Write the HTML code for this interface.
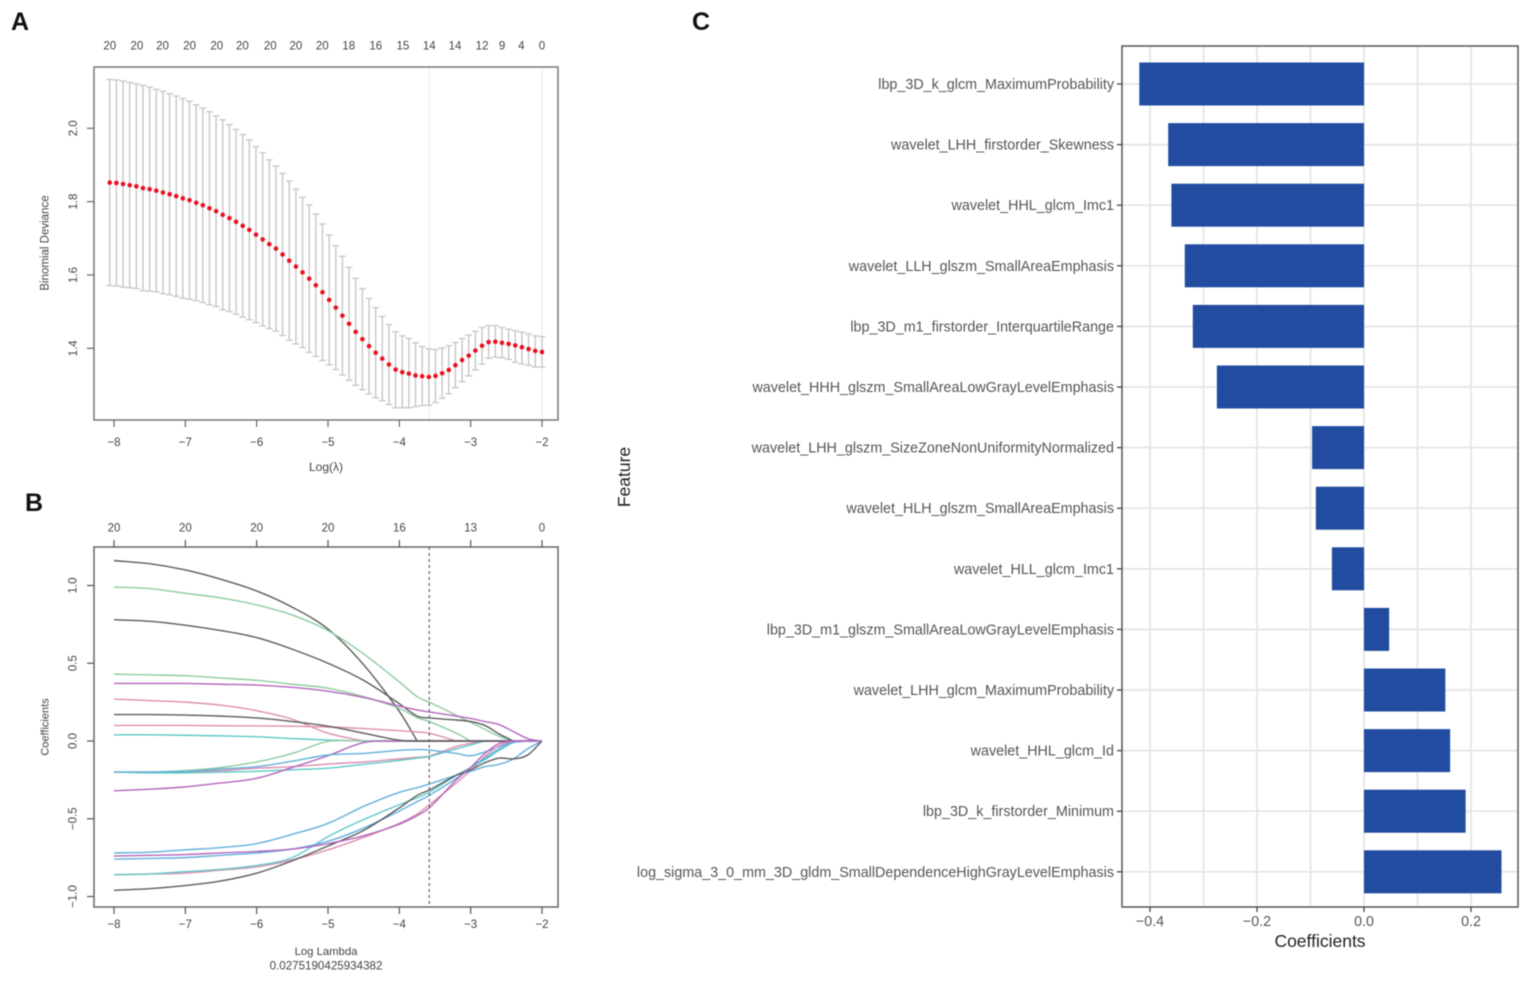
<!DOCTYPE html>
<html>
<head>
<meta charset="utf-8">
<title>Radiomics LASSO figure</title>
<style>
html,body{margin:0;padding:0;background:#fff;width:1535px;height:981px;overflow:hidden}
svg{display:block;filter:blur(0.55px)}
text{font-family:"Liberation Sans",Arial,sans-serif}
</style>
</head>
<body>
<svg id="fig" xmlns="http://www.w3.org/2000/svg" width="1535" height="981" viewBox="0 0 1535 981"></svg>
<script>
// ---------- Panel A data ----------
const logLambdaA = [-8.06,-7.967,-7.874,-7.78,-7.687,-7.594,-7.501,-7.408,-7.314,-7.221,-7.128,-7.035,-6.942,-6.848,-6.755,-6.662,-6.569,-6.476,-6.382,-6.289,-6.196,-6.103,-6.01,-5.916,-5.823,-5.73,-5.637,-5.544,-5.45,-5.357,-5.264,-5.171,-5.078,-4.984,-4.891,-4.798,-4.705,-4.612,-4.518,-4.425,-4.332,-4.239,-4.146,-4.052,-3.959,-3.866,-3.773,-3.68,-3.586,-3.493,-3.4,-3.307,-3.214,-3.12,-3.027,-2.934,-2.841,-2.748,-2.654,-2.561,-2.468,-2.375,-2.282,-2.188,-2.095,-2.0];
const devianceMean = [1.852,1.851,1.848,1.845,1.842,1.837,1.834,1.830,1.825,1.820,1.815,1.809,1.804,1.797,1.790,1.782,1.774,1.764,1.755,1.745,1.734,1.723,1.710,1.697,1.684,1.672,1.656,1.639,1.623,1.607,1.590,1.572,1.553,1.532,1.511,1.489,1.467,1.445,1.425,1.406,1.388,1.372,1.356,1.342,1.335,1.331,1.326,1.324,1.322,1.325,1.332,1.341,1.354,1.368,1.380,1.394,1.407,1.417,1.418,1.415,1.412,1.408,1.403,1.398,1.393,1.390];
const devianceUpper = [2.133,2.132,2.129,2.125,2.121,2.117,2.112,2.106,2.101,2.094,2.088,2.081,2.074,2.064,2.055,2.045,2.034,2.023,2.010,1.997,1.983,1.968,1.950,1.933,1.914,1.897,1.877,1.856,1.834,1.812,1.791,1.766,1.739,1.709,1.680,1.651,1.621,1.591,1.563,1.536,1.511,1.487,1.465,1.445,1.434,1.427,1.415,1.405,1.399,1.397,1.401,1.407,1.416,1.427,1.436,1.446,1.457,1.462,1.462,1.457,1.452,1.448,1.444,1.439,1.434,1.432];
const devianceLower = [1.571,1.570,1.567,1.565,1.563,1.557,1.556,1.554,1.549,1.546,1.542,1.537,1.534,1.530,1.525,1.519,1.514,1.505,1.500,1.493,1.485,1.478,1.470,1.461,1.454,1.447,1.435,1.422,1.412,1.402,1.389,1.378,1.367,1.355,1.342,1.327,1.313,1.299,1.287,1.276,1.265,1.257,1.247,1.238,1.238,1.238,1.241,1.244,1.245,1.252,1.264,1.276,1.293,1.309,1.325,1.341,1.357,1.373,1.376,1.374,1.370,1.362,1.357,1.354,1.349,1.349];
const topCountsA = ["20","20","20","20","20","20","20","20","20","18","16","15","14","14","12","9","4","0"];
const topLambdaA = [-8.06,-7.68,-7.32,-6.94,-6.56,-6.20,-5.81,-5.45,-5.08,-4.71,-4.33,-3.95,-3.58,-3.22,-2.84,-2.56,-2.29,-2.0];
const xTicks = [-8,-7,-6,-5,-4,-3,-2];
const yTicksA = [1.4,1.6,1.8,2.0];
const refLinesA = [-3.58,-2];

// ---------- Panel B data ----------
const pathLambda = [-8,-7.5,-7,-6.5,-6,-5.5,-5,-4.5,-4,-3.75,-3.58,-3.2,-3,-2.8,-2.6,-2.4,-2.2,-2];
const coefBlack1  = [1.16,1.14,1.10,1.04,.965,.86,.72,.49,.19,0,0,0,0,0,0,0,0,0];
const coefGreen1  = [.99,.98,.95,.92,.875,.81,.71,.56,.38,.285,.25,.165,.12,.075,.03,0,0,0];
const coefBlack2  = [.78,.77,.745,.71,.665,.59,.50,.39,.24,.16,.148,.135,.125,.10,.045,0,0,0];
const coefGreen2  = [.43,.425,.42,.405,.39,.365,.34,.285,.21,.15,.125,.05,0,0,0,0,0,0];
const coefMagenta1= [.37,.37,.37,.365,.36,.345,.32,.28,.225,.2,.187,.16,.145,.125,.105,.06,.015,0];
const coefPink1   = [.27,.26,.25,.23,.195,.14,.05,0,0,0,0,0,0,0,0,0,0,0];
const coefBlack3  = [.17,.17,.167,.16,.148,.125,.095,.05,.005,0,0,0,0,0,0,0,0,0];
const coefPink2   = [.10,.10,.10,.098,.097,.095,.09,.08,.066,.058,.05,0,0,0,0,0,0,0];
const coefCyan1   = [.04,.04,.037,.033,.027,.016,.006,0,0,0,0,0,0,0,0,0,0,0];
const coefGreen3  = [-.2,-.2,-.19,-.17,-.135,-.08,-.002,0,0,0,0,0,0,0,0,0,0,0];
const coefBlue1   = [-.2,-.2,-.195,-.18,-.165,-.13,-.09,-.08,-.06,-.055,-.058,-.08,-.095,-.07,-.035,0,0,0];
const coefPink3   = [-.2,-.2,-.2,-.19,-.175,-.165,-.148,-.135,-.115,-.105,-.097,-.035,-.015,0,0,0,0,0];
const coefCyan2   = [-.2,-.205,-.205,-.2,-.195,-.185,-.175,-.15,-.125,-.11,-.1,-.05,-.025,0,0,0,0,0];
const coefMagenta2= [-.32,-.31,-.295,-.27,-.24,-.17,-.095,-.01,0,0,0,0,0,0,0,0,0,0];
const coefBlue2   = [-.72,-.715,-.70,-.685,-.66,-.60,-.53,-.42,-.33,-.30,-.277,-.22,-.195,-.165,-.15,-.115,-.05,0];
const coefMagenta3= [-.74,-.735,-.73,-.72,-.71,-.695,-.66,-.61,-.535,-.48,-.43,-.25,-.17,-.08,-.015,0,0,0];
const coefBlue3   = [-.76,-.755,-.75,-.735,-.72,-.695,-.645,-.56,-.45,-.39,-.35,-.24,-.17,-.11,-.05,-.01,0,0];
const coefCyan3   = [-.86,-.855,-.84,-.825,-.80,-.75,-.615,-.505,-.41,-.365,-.33,-.22,-.17,-.12,-.06,-.01,0,0];
const coefPink4   = [-.86,-.855,-.85,-.83,-.81,-.765,-.70,-.62,-.53,-.47,-.41,-.27,-.19,-.10,-.03,0,0,0];
const coefBlack4  = [-.96,-.95,-.93,-.90,-.85,-.77,-.675,-.575,-.43,-.35,-.315,-.22,-.185,-.14,-.11,-.115,-.09,0];
const topCountsB = ["20","20","20","20","16","13","0"];
const yTicksB = [-1,-.5,0,.5,1];
const refLineB = -3.58;

// ---------- Panel C data ----------
const features = ["lbp_3D_k_glcm_MaximumProbability","wavelet_LHH_firstorder_Skewness","wavelet_HHL_glcm_Imc1","wavelet_LLH_glszm_SmallAreaEmphasis","lbp_3D_m1_firstorder_InterquartileRange","wavelet_HHH_glszm_SmallAreaLowGrayLevelEmphasis","wavelet_LHH_glszm_SizeZoneNonUniformityNormalized","wavelet_HLH_glszm_SmallAreaEmphasis","wavelet_HLL_glcm_Imc1","lbp_3D_m1_glszm_SmallAreaLowGrayLevelEmphasis","wavelet_LHH_glcm_MaximumProbability","wavelet_HHL_glcm_Id","lbp_3D_k_firstorder_Minimum","log_sigma_3_0_mm_3D_gldm_SmallDependenceHighGrayLevelEmphasis"];
const coefficients = [-.42,-.366,-.36,-.335,-.32,-.275,-.097,-.09,-.06,.047,.152,.161,.19,.257];
const majorTicksC = [-.4,-.2,0,.2];
const minorTicksC = [-.3,-.1,.1];

// ---------- helpers ----------
const NS = 'http://www.w3.org/2000/svg';
const fig = document.getElementById('fig');
function mk(tag, attrs, name, parent){
  const el = document.createElementNS(NS, tag);
  for (const k in attrs) el.setAttribute(k, attrs[k]);
  
  
  (parent || fig).appendChild(el);
  return el;
}
function txt(s, x, y, size, fill, name, opts){
  opts = opts || {};
  if (opts.rot) x += 1; else y += 1;
  const a = {x:x, y:y, 'font-size':size, fill:fill, 'text-anchor':opts.anchor || 'middle', 'dominant-baseline':'central'};
  if (opts.rot) a.transform = 'rotate(-90 ' + x + ' ' + y + ')';
  if (opts.weight) a['font-weight'] = opts.weight;
  const el = mk('text', a, name, opts.parent);
  el.textContent = s;
  return el;
}
function line(x1,y1,x2,y2,stroke,w,name,parent,dash){
  const a = {x1:x1,y1:y1,x2:x2,y2:y2,stroke:stroke,'stroke-width':w};
  if (dash) a['stroke-dasharray'] = dash;
  return mk('line', a, name, parent);
}
const fmtMinus = s => String(s).replace('-', '\u2212');

// shared x scale panels A/B
const xLam = v => 542 + (v + 2) * 71.33;

// panel labels
txt('A', 20, 21, 25, '#111', 'panel-label-a', {weight:'bold'});
txt('B', 34, 502, 25, '#111', 'panel-label-b', {weight:'bold'});
txt('C', 701, 21, 25, '#111', 'panel-label-c', {weight:'bold'});

// ---------- Panel A ----------
(function(){
  const g = mk('g', {}, 'panel-a-cv-deviance');
  const yA = v => 128.3 + (2 - v) * 366.7;
  refLinesA.forEach(v => line(xLam(v),67,xLam(v),420,'#d4d4d4',1,'reference-line',g,'1.5 1.5'));
  logLambdaA.forEach((v,i) => {
    const x = xLam(v), yu = yA(devianceUpper[i]), yl = yA(devianceLower[i]);
    line(x,yu,x,yl,'#c6c6c6',1.4,'error-bar',g);
    line(x-3.4,yu,x+3.4,yu,'#c6c6c6',1.3,'error-cap-upper',g);
    line(x-3.4,yl,x+3.4,yl,'#c6c6c6',1.3,'error-cap-lower',g);
  });
  logLambdaA.forEach((v,i) => {
    mk('circle',{cx:xLam(v),cy:yA(devianceMean[i]),r:2.3,fill:'#ea1020'},'deviance-point',g);
  });
  mk('rect',{x:94,y:67,width:464,height:353,fill:'none',stroke:'#777','stroke-width':1.5},'panel-a-frame',g);
  xTicks.forEach(v => {
    line(xLam(v),420,xLam(v),427,'#666',1.2,'x-tick',g);
    txt(fmtMinus(v),xLam(v),442,11.5,'#444','x-tick-label',{parent:g});
  });
  yTicksA.forEach(v => {
    line(87,yA(v),94,yA(v),'#666',1.2,'y-tick',g);
    txt(v.toFixed(1),73,yA(v),11.5,'#444','y-tick-label',{rot:true,parent:g});
  });
  topLambdaA.forEach((v,i) => txt(topCountsA[i],xLam(v),45.5,11.5,'#444','top-count-label',{parent:g}));
  txt('Log(\u03bb)',326,466,12,'#444','x-axis-title',{parent:g});
  txt('Binomial Deviance',44.5,243,11.5,'#444','y-axis-title',{rot:true,parent:g});
})();

// ---------- Panel B ----------
(function(){
  const g = mk('g', {}, 'panel-b-coefficient-paths');
  const yB = v => 741 - v * 155.5;
  const dark='#5c5c5c', pink='#dd8fb0', green='#8fcc9f', blue='#62b0dc', cyan='#5ec8c8', mag='#b565bd';
  const series = [
    [coefBlack1,dark,'path-black-1'],[coefGreen1,green,'path-green-1'],[coefBlack2,dark,'path-black-2'],
    [coefGreen2,green,'path-green-2'],[coefMagenta1,mag,'path-magenta-1'],[coefPink1,pink,'path-pink-1'],
    [coefPink2,pink,'path-pink-2'],[coefCyan1,cyan,'path-cyan-1'],[coefGreen3,green,'path-green-3'],
    [coefPink3,pink,'path-pink-3'],[coefCyan2,cyan,'path-cyan-2'],[coefMagenta2,mag,'path-magenta-2'],
    [coefBlue1,blue,'path-blue-1'],[coefBlack3,dark,'path-black-3'],[coefPink4,pink,'path-pink-4'],
    [coefCyan3,cyan,'path-cyan-3'],[coefBlue3,blue,'path-blue-3'],[coefBlue2,blue,'path-blue-2'],
    [coefBlack4,dark,'path-black-4'],[coefMagenta3,mag,'path-magenta-3']
  ];
  series.forEach(s => {
    const P = s[0].map((v,i) => [xLam(pathLambda[i]), yB(v)]);
    const n = P.length;
    // slope at each knot: central difference, kept sharp where a path lands on a flat zero run
    const m = P.map((p,i) => {
      if (i === 0) return (P[1][1]-p[1])/(P[1][0]-p[0]);
      if (i === n-1) return (p[1]-P[i-1][1])/(p[0]-P[i-1][0]);
      return (P[i+1][1]-P[i-1][1])/(P[i+1][0]-P[i-1][0]);
    });
    let d = 'M' + P[0][0] + ' ' + P[0][1];
    for (let i = 0; i < n-1; i++){
      const b = P[i], c = P[i+1], h = c[0]-b[0];
      const flatSeg = s[0][i] === s[0][i+1];
      const landing = i+2 < n && s[0][i+1] === s[0][i+2];
      const leaving = i > 0 && s[0][i-1] === s[0][i];
      const s0 = flatSeg ? 0 : (leaving ? (c[1]-b[1])/h : m[i]);
      const s1 = flatSeg ? 0 : (landing ? (c[1]-b[1])/h : m[i+1]);
      d += ' C' + (b[0]+h/3) + ' ' + (b[1]+s0*h/3) + ' ' + (c[0]-h/3) + ' ' + (c[1]-s1*h/3) + ' ' + c[0] + ' ' + c[1];
    }
    mk('path',{d:d,fill:'none',stroke:s[1],'stroke-width':1.4},s[2],g);
  });
  line(xLam(refLineB),547,xLam(refLineB),907,'#555',1.1,'lambda-reference-line',g,'3 3');
  mk('rect',{x:94,y:547,width:464,height:360,fill:'none',stroke:'#666','stroke-width':1.5},'panel-b-frame',g);
  xTicks.forEach((v,i) => {
    line(xLam(v),907,xLam(v),914,'#555',1.2,'x-tick',g);
    line(xLam(v),540,xLam(v),547,'#555',1.2,'top-tick',g);
    txt(fmtMinus(v),xLam(v),924,11.5,'#444','x-tick-label',{parent:g});
    txt(topCountsB[i],xLam(v),527.5,11.5,'#444','top-count-label',{parent:g});
  });
  yTicksB.forEach(v => {
    line(87,yB(v),94,yB(v),'#555',1.2,'y-tick',g);
    txt(fmtMinus(v.toFixed(1)),72.5,yB(v),11.5,'#444','y-tick-label',{rot:true,parent:g});
  });
  txt('Log Lambda',326,951,11.3,'#444','x-axis-title',{parent:g});
  txt('0.0275190425934382',326,965,11.6,'#444','lambda-value',{parent:g});
  txt('Coefficients',44.5,727,11,'#444','y-axis-title',{rot:true,parent:g});
})();

// ---------- Panel C ----------
(function(){
  const g = mk('g', {}, 'panel-c-coefficient-bars');
  const xC = v => 1364 + v * 535;
  const yC = i => 84 + i * 60.6;
  const gridCol = '#e4e4e4';
  minorTicksC.concat(majorTicksC).forEach(v => line(xC(v),46,xC(v),907,gridCol,1.7,'vertical-gridline',g));
  features.forEach((f,i) => line(1122,yC(i),1518,yC(i),gridCol,1.7,'horizontal-gridline',g));
  features.forEach((f,i) => {
    const v = coefficients[i];
    mk('rect',{x:Math.min(xC(v),xC(0)),y:yC(i)-21.5,width:Math.abs(xC(v)-xC(0)),height:43,fill:'#214ca0'},'bar-'+f,g);
  });
  mk('rect',{x:1122,y:46,width:396,height:861,fill:'none',stroke:'#555','stroke-width':1.5},'panel-c-frame',g);
  features.forEach((f,i) => {
    line(1117,yC(i),1122,yC(i),'#444',1.3,'y-tick',g);
    txt(f,1114,yC(i),14.33,'#555','feature-label',{anchor:'end',parent:g});
  });
  majorTicksC.forEach(v => {
    line(xC(v),907,xC(v),912,'#444',1.3,'x-tick',g);
    txt(fmtMinus(v.toFixed(1)),xC(v),921,14.3,'#555','x-tick-label',{parent:g});
  });
  txt('Coefficients',1320,940,17.5,'#222','x-axis-title',{parent:g});
  txt('Feature',623,477,17.5,'#222','y-axis-title',{rot:true,parent:g});
})();
</script>
</body>
</html>
